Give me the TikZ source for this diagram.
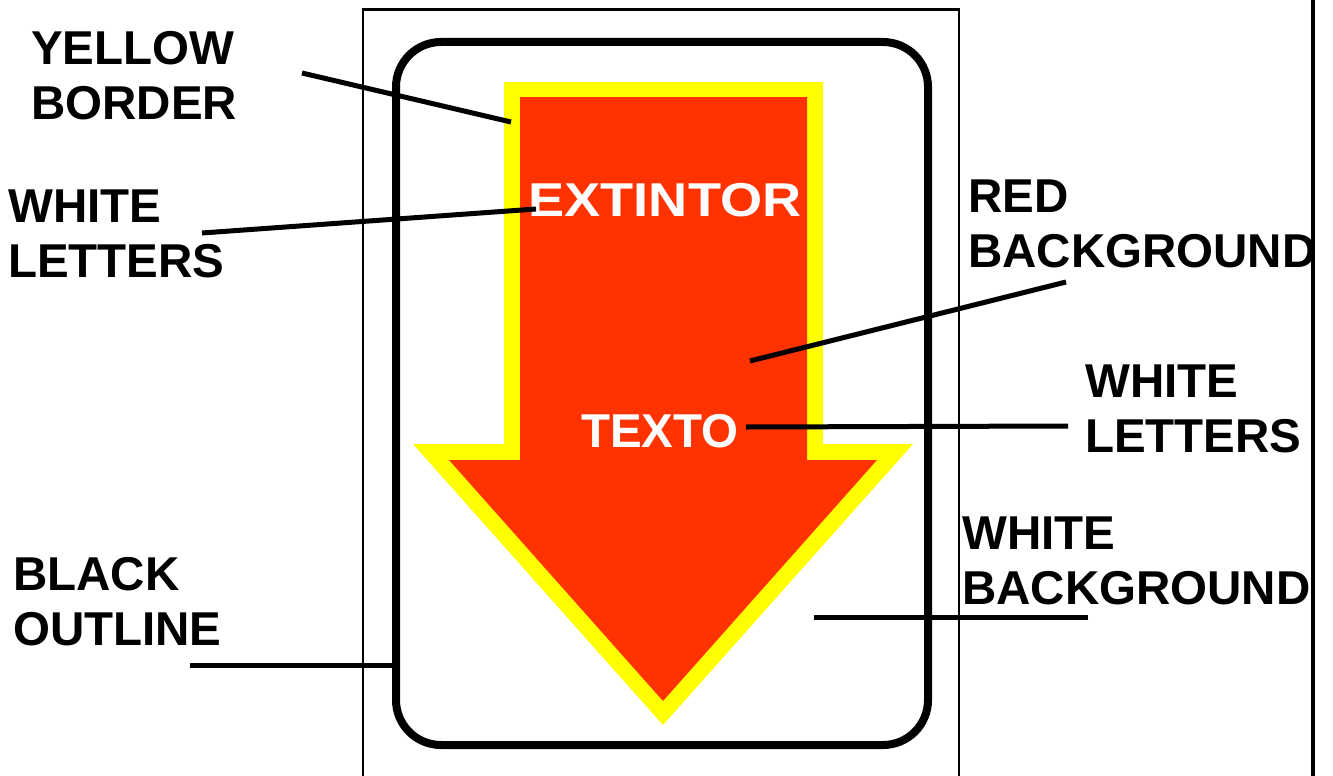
\documentclass[tikz,border=0pt]{standalone}
\usepackage{fontspec}
\setmainfont{Liberation Sans}
\usepackage{tikz}

\definecolor{signred}{HTML}{FF3300}
\definecolor{signyellow}{HTML}{FFFF00}

\begin{document}
\begin{tikzpicture}[x=1pt,y=-1pt,
    lbl/.style={anchor=north west,inner sep=0pt,align=left,
      font=\bfseries\fontsize{47.5pt}{55pt}\selectfont},
    sgn/.style={anchor=north,inner sep=0pt,text=white,
      font=\bfseries\fontsize{47.5pt}{55pt}\selectfont},
    leader/.style={line width=5pt}]
    \useasboundingbox (0,0) rectangle (1333,776);
    % sheet edges
    \draw[line width=2.4pt] (363,776) -- (363,9.5) -- (959,9.5) -- (959,776);
    \draw[line width=4.5pt] (1313,0) -- (1313,776);
    % black outline of the sign
    \draw[line width=8pt,rounded corners=45pt] (396,42) rectangle (928,745);
    % yellow border, red arrow on top
    \fill[signyellow] (504,82) -- (823,82) -- (823,444) -- (913,444)
        -- (663,725) -- (413,444) -- (504,444) -- cycle;
    \fill[signred] (520,97) -- (807,97) -- (807,460) -- (877,460)
        -- (663,701) -- (449,460) -- (520,460) -- cycle;
    \node[sgn] (ext) at (665,183) {\scalebox{1.14}[1]{EXTINTOR}};
    \node[sgn] (texto) at (660,414) {TEXTO};

    % labels
    \node[lbl] (yborder) at (31,31) {YELLOW\\BORDER};
    \node[lbl] (wletters) at (8,190) {WHITE\\LETTERS};
    \node[lbl] (redbg) at (968,180) {RED\\BACKGROUND};
    \node[lbl] (wletters2) at (1085,365) {WHITE\\LETTERS};
    \node[lbl] (whitebg) at (962,517) {WHITE\\BACKGROUND};
    \node[lbl] (boutline) at (13,557) {BLACK\\OUTLINE};

    % leader ends
    \coordinate (yborder-a) at (302,73);
    \coordinate (yborder-b) at (511,122);
    \coordinate (wletters-a) at (202,233);
    \coordinate (wletters-b) at (536,209);
    \coordinate (redbg-a) at (1066,282);
    \coordinate (redbg-b) at (750,361);
    \coordinate (wletters2-a) at (1068,426);
    \coordinate (wletters2-b) at (746,427);
    \coordinate (whitebg-a) at (1088,617);
    \coordinate (whitebg-b) at (814,617);
    \coordinate (boutline-a) at (190,665);
    \coordinate (boutline-b) at (396,665);

    \draw[leader] (yborder-a) -- (yborder-b);
    \draw[leader] (wletters-a) -- (wletters-b);
    \draw[leader] (redbg-a) -- (redbg-b);
    \draw[leader] (wletters2-a) -- (wletters2-b);
    \draw[leader] (whitebg-a) -- (whitebg-b);
    \draw[leader] (boutline-a) -- (boutline-b);
\end{tikzpicture}
\end{document}
